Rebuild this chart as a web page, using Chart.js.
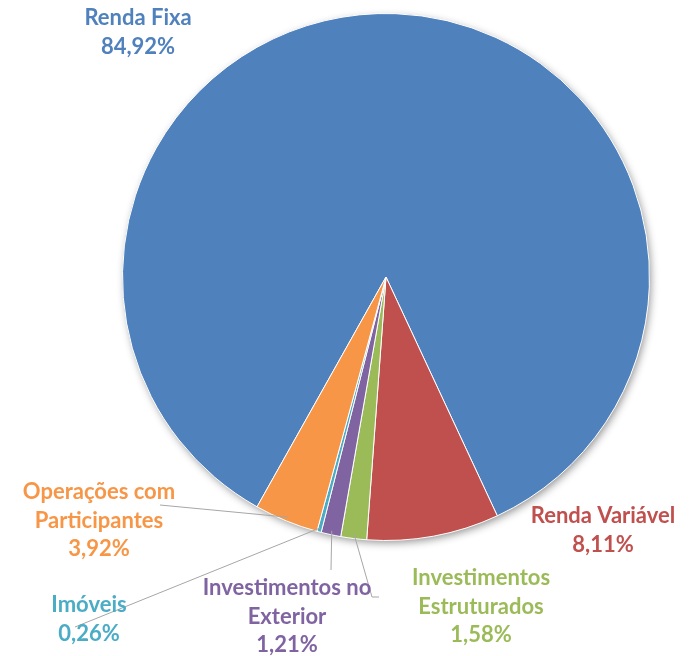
<!DOCTYPE html>
<html>
<head>
<meta charset="utf-8">
<script src="https://cdn.jsdelivr.net/npm/chart.js@4/dist/chart.umd.min.js"></script>
<style>
  html, body { margin: 0; padding: 0; background: #fff; }
  #wrap { width: 690px; height: 656px; }
</style>
</head>
<body>
<div id="wrap"><canvas id="pie"></canvas></div>
<script>
const categories = [
  ["Renda Fixa"],
  ["Renda Variável"],
  ["Investimentos", "Estruturados"],
  ["Investimentos no", "Exterior"],
  ["Imóveis"],
  ["Operações com", "Participantes"]
];
const shares = [84.92, 8.11, 1.58, 1.21, 0.26, 3.92];
const colors = ["#4F81BD", "#C0504D", "#9BBB59", "#8064A2", "#4BACC6", "#F79646"];

// label anchors (text centre x, first line y) and leader line end points
const labelPos = [
  { x: 138, y: 18, line: null },
  { x: 603, y: 516, line: null },
  { x: 481, y: 578, line: [[372, 597], [379, 597]] },
  { x: 287, y: 588, line: [[331, 570]] },
  { x: 89, y: 605, line: [[75, 627]] },
  { x: 99, y: 492, line: [[160, 505]] }
];

function pct(v) {
  return v.toFixed(2).replace(".", ",") + "%";
}

const shadowPlugin = {
  id: "shadow",
  beforeDatasetsDraw(chart) {
    const arc = chart.getDatasetMeta(0).data[0];
    if (!arc) return;
    const ctx = chart.ctx;
    ctx.save();
    ctx.shadowColor = "rgba(0,0,0,0.45)";
    ctx.shadowBlur = 9;
    ctx.shadowOffsetX = 2;
    ctx.shadowOffsetY = 3;
    ctx.fillStyle = "#fff";
    ctx.beginPath();
    ctx.arc(arc.x, arc.y, arc.outerRadius - 1, 0, Math.PI * 2);
    ctx.fill();
    ctx.restore();
  }
};

const labelPlugin = {
  id: "pieLabels",
  afterDatasetsDraw(chart) {
    const ctx = chart.ctx;
    const arcs = chart.getDatasetMeta(0).data;
    ctx.save();
    arcs.forEach((arc, i) => {
      const p = labelPos[i];
      if (p.line) {
        const mid = (arc.startAngle + arc.endAngle) / 2;
        const r = arc.outerRadius - 4;
        ctx.strokeStyle = "#A6A6A6";
        ctx.lineWidth = 1;
        ctx.beginPath();
        ctx.moveTo(arc.x + Math.cos(mid) * r, arc.y + Math.sin(mid) * r);
        p.line.forEach(pt => ctx.lineTo(pt[0], pt[1]));
        ctx.stroke();
      }
      const lines = categories[i].concat([pct(shares[i])]);
      ctx.fillStyle = colors[i];
      ctx.font = "bold 22px Lato, 'Open Sans', sans-serif";
      ctx.textAlign = "center";
      ctx.textBaseline = "middle";
      lines.forEach((t, k) => ctx.fillText(t, p.x, p.y + k * 28.5));
    });
    ctx.restore();
  }
};

new Chart(document.getElementById("pie"), {
  type: "pie",
  data: {
    labels: categories.map(c => c.join(" ")),
    datasets: [{
      data: shares,
      backgroundColor: colors,
      borderColor: "#ffffff",
      borderWidth: 1
    }]
  },
  options: {
    responsive: true,
    maintainAspectRatio: false,
    animation: false,
    rotation: 209.3,
    layout: { padding: { left: 122, right: 40, top: 12, bottom: 114 } },
    plugins: {
      legend: { display: false },
      tooltip: { enabled: false }
    }
  },
  plugins: [shadowPlugin, labelPlugin]
});
</script>
</body>
</html>
